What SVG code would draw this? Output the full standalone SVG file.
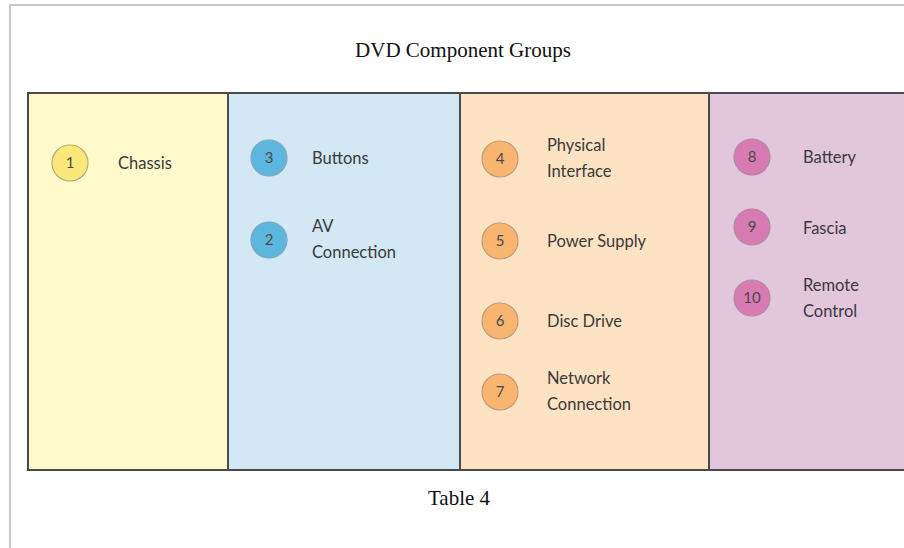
<svg xmlns="http://www.w3.org/2000/svg" width="904" height="548" viewBox="0 0 904 548">
  <style>
    .frame { fill: none; stroke: #c8c8c8; stroke-width: 2; }
    .col { stroke: none; }
    .grid { fill: none; stroke: #4a4a4a; stroke-width: 2; }
    .caption { font-family: "Liberation Serif", "Times New Roman", serif; font-size: 21px; fill: #111; text-anchor: middle; }
    .label { font-family: Lato, "Open Sans", sans-serif; font-size: 16.5px; fill: #3a3a3a; }
    .num { font-family: Lato, "Open Sans", sans-serif; font-size: 15px; fill: #4a4a4a; text-anchor: middle; }
    .c-yellow { fill: #fbe87a; stroke: #b8ac70; stroke-width: 1.2; }
    .c-blue { fill: #5cb6de; stroke: #7fa8bd; stroke-width: 1.2; }
    .c-orange { fill: #f8b56f; stroke: #c09a7a; stroke-width: 1.2; }
    .c-pink { fill: #d97bb3; stroke: #b58aa5; stroke-width: 1.2; }
  </style>

  <rect width="904" height="548" fill="#ffffff"/>
  <!-- page frame (top and left edges) -->
  <path class="frame" d="M10 548 V5 H904"/>

  <text class="caption" x="463" y="57">DVD Component Groups</text>

  <!-- column backgrounds -->
  <rect class="col" x="28" y="93" width="200" height="377" fill="#fff9cc"/>
  <rect class="col" x="228" y="93" width="232" height="377" fill="#d3e8f4"/>
  <rect class="col" x="460" y="93" width="249" height="377" fill="#fde3c3"/>
  <rect class="col" x="709" y="93" width="195" height="377" fill="#e2c6dc"/>

  <!-- table rules -->
  <path class="grid" d="M904 93 H28 V470 H904 M228 93 V470 M460 93 V470 M709 93 V470"/>

  <g id="node-1">
    <circle class="c-yellow" cx="70" cy="163" r="18"/>
    <text class="num" x="70" y="168">1</text>
    <text class="label" x="118" y="169">Chassis</text>
  </g>

  <g id="node-3">
    <circle class="c-blue" cx="269" cy="158" r="18"/>
    <text class="num" x="269" y="163">3</text>
    <text class="label" x="312" y="164">Buttons</text>
  </g>
  <g id="node-2">
    <circle class="c-blue" cx="269" cy="240" r="18"/>
    <text class="num" x="269" y="245">2</text>
    <text class="label" x="312" y="232">AV</text>
    <text class="label" x="312" y="258">Connection</text>
  </g>

  <g id="node-4">
    <circle class="c-orange" cx="500" cy="159" r="18"/>
    <text class="num" x="500" y="164">4</text>
    <text class="label" x="547" y="151">Physical</text>
    <text class="label" x="547" y="177">Interface</text>
  </g>
  <g id="node-5">
    <circle class="c-orange" cx="500" cy="241" r="18"/>
    <text class="num" x="500" y="246">5</text>
    <text class="label" x="547" y="247">Power Supply</text>
  </g>
  <g id="node-6">
    <circle class="c-orange" cx="500" cy="321" r="18"/>
    <text class="num" x="500" y="326">6</text>
    <text class="label" x="547" y="327">Disc Drive</text>
  </g>
  <g id="node-7">
    <circle class="c-orange" cx="500" cy="392" r="18"/>
    <text class="num" x="500" y="397">7</text>
    <text class="label" x="547" y="384">Network</text>
    <text class="label" x="547" y="410">Connection</text>
  </g>

  <g id="node-8">
    <circle class="c-pink" cx="752" cy="157" r="18"/>
    <text class="num" x="752" y="162">8</text>
    <text class="label" x="803" y="163">Battery</text>
  </g>
  <g id="node-9">
    <circle class="c-pink" cx="752" cy="227" r="18"/>
    <text class="num" x="752" y="232">9</text>
    <text class="label" x="803" y="234">Fascia</text>
  </g>
  <g id="node-10">
    <circle class="c-pink" cx="752" cy="298" r="18"/>
    <text class="num" x="752" y="303">10</text>
    <text class="label" x="803" y="291">Remote</text>
    <text class="label" x="803" y="317">Control</text>
  </g>

  <text class="caption" x="459" y="505">Table 4</text>
</svg>
